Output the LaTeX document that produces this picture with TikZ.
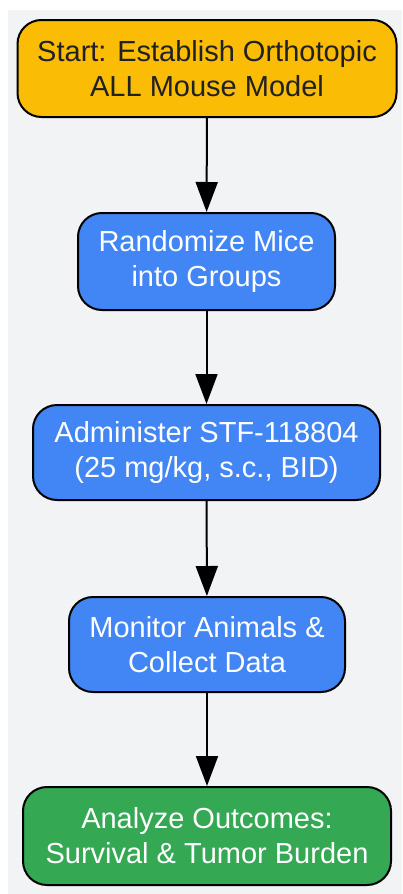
\documentclass[tikz,border=0pt]{standalone}
\usepackage{fontspec}
\setmainfont{Liberation Sans}
\usetikzlibrary{arrows.meta}
\definecolor{bggray}{HTML}{F1F3F4}
\definecolor{gyellow}{HTML}{FBBC05}
\definecolor{gblue}{HTML}{4285F4}
\definecolor{ggreen}{HTML}{34A853}
\definecolor{gtext}{HTML}{202124}
\tikzset{
  box/.style={draw=black, line width=2pt, rounded corners=24pt, align=center,
    font=\fontsize{29}{35}\selectfont, inner sep=0pt},
  conn/.style={line width=2pt, -{Triangle[length=30pt,width=22pt]}}
}
\begin{document}
\begin{tikzpicture}[x=1pt,y=1pt]
\useasboundingbox (0,0) rectangle (402,-894);
\fill[bggray] (8,-10) rectangle (402,-894);
\node[box, fill=gyellow, text=gtext, minimum width=379pt, minimum height=97pt] (n1) at (207,-68.5) {Start: Establish Orthotopic\\ALL Mouse Model};
\node[box, fill=gblue, text=white, minimum width=257pt, minimum height=97pt] (n2) at (206.5,-261.5) {Randomize Mice\\into Groups};
\node[box, fill=gblue, text=white, minimum width=347pt, minimum height=95pt] (n3) at (206.5,-452.5) {Administer STF-118804\\(25 mg/kg, s.c., BID)};
\node[box, fill=gblue, text=white, minimum width=276pt, minimum height=95pt] (n4) at (207,-644.5) {Monitor Animals \&\\Collect Data};
\node[box, fill=ggreen, text=white, minimum width=368pt, minimum height=98pt] (n5) at (207,-836) {Analyze Outcomes:\\Survival \& Tumor Burden};
\draw[conn] (n1) -- (n2);
\draw[conn] (n2) -- (n3);
\draw[conn] (n3) -- (n4);
\draw[conn] (n4) -- (n5);
\end{tikzpicture}
\end{document}
